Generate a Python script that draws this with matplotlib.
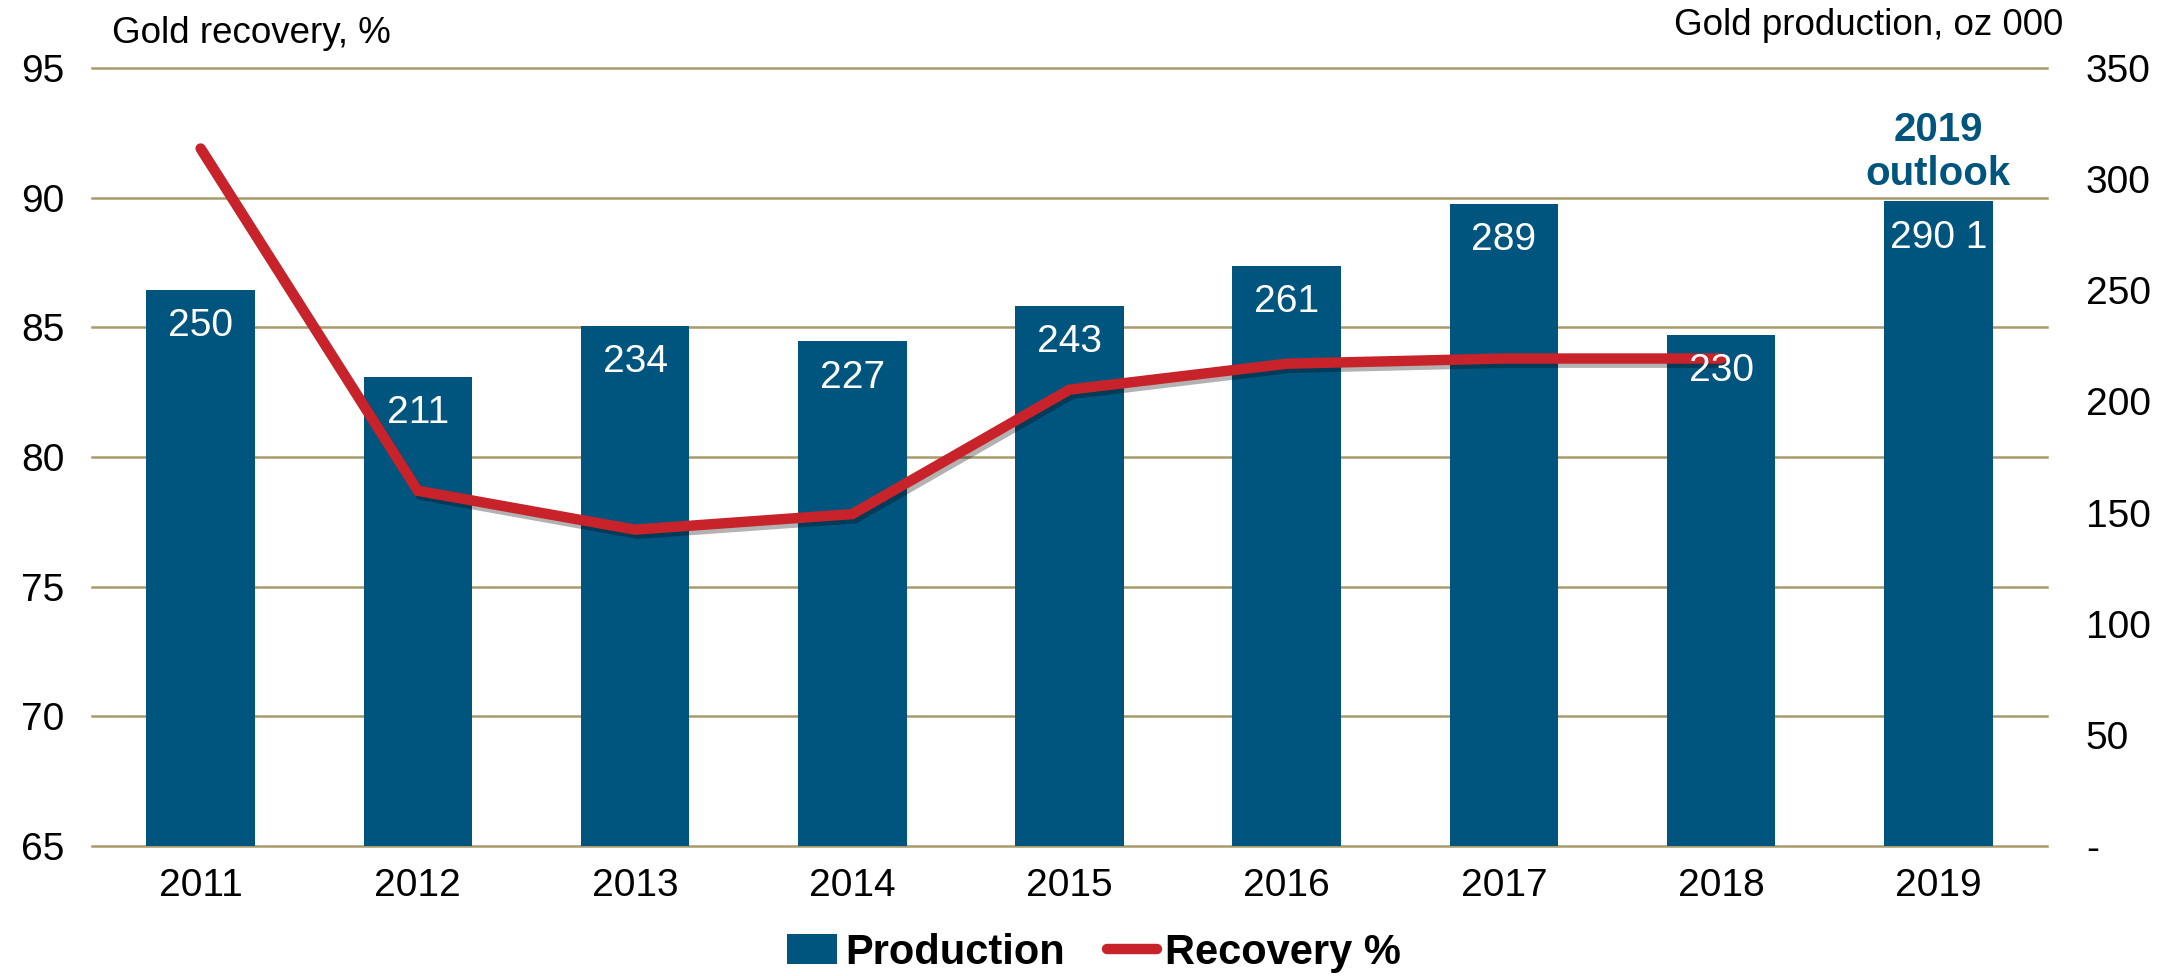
import matplotlib
matplotlib.use("Agg")
import matplotlib.pyplot as plt
import matplotlib.patheffects as pe
import matplotlib.transforms as mtransforms
from matplotlib.patches import Patch
from matplotlib.lines import Line2D
import numpy as np

plt.rcParams['font.family'] = ['Liberation Sans', 'DejaVu Sans']

years = ["2011", "2012", "2013", "2014", "2015", "2016", "2017", "2018", "2019"]
production = [250, 211, 234, 227, 243, 261, 289, 230, 290]
prod_labels = ["250", "211", "234", "227", "243", "261", "289", "230", "290 1"]
recovery = [91.9, 78.7, 77.2, 77.8, 82.6, 83.6, 83.8, 83.8]   # no 2019 value

left_ticks = [65, 70, 75, 80, 85, 90, 95]
right_ticks = [0, 50, 100, 150, 200, 250, 300, 350]
right_tick_labels = ["-", "50", "100", "150", "200", "250", "300", "350"]

blue = "#00557f"
red = "#c8232b"
grid_col = "#a99a6b"
fs = 28

fig = plt.figure(figsize=(21.75, 9.76), dpi=100)
ax = fig.add_axes([0.0423, 0.1332, 0.8988, 0.797])

x = np.arange(len(years))
ax.bar(x, production, width=0.5, color=blue, zorder=2)
ax.set_xlim(-0.5, len(years) - 0.5)
ax.set_ylim(0, 350)
ax.set_xticks(x)
ax.set_xticklabels(years)
for s in ax.spines.values():
    s.set_visible(False)

# recovery line on a twin axis (left scale)
ax2 = ax.twinx()
ax2.set_ylim(65, 95)
ax2.set_yticks(left_ticks)
ax2.yaxis.tick_left()
ax2.tick_params(axis='y', length=0, pad=20, labelsize=fs)
for s in ax2.spines.values():
    s.set_visible(False)

# gridlines follow the left (recovery) scale but sit behind the bars
trans = mtransforms.blended_transform_factory(ax.transAxes, ax2.transData)
for t in left_ticks:
    ax.plot([0, 1], [t, t], transform=trans, color=grid_col, linewidth=1.8,
            zorder=1, clip_on=False)

# production scale goes to the right (twinx resets it)
ax.yaxis.tick_right()
ax.set_yticks(right_ticks)
ax.set_yticklabels(right_tick_labels)
ax.tick_params(axis='x', length=0, pad=16, labelsize=fs)
ax.tick_params(axis='y', length=0, pad=28, labelsize=fs)
for lab in ax.get_yticklabels():
    lab.set_horizontalalignment('left')

ax2.plot(x[:len(recovery)], recovery, color=red, linewidth=7.5,
         solid_capstyle='round', solid_joinstyle='miter',
         path_effects=[pe.SimpleLineShadow(offset=(2, -3), shadow_color='black', alpha=0.3),
                       pe.Normal()])

# bar labels drawn on top axis so they sit over the line
for i, v in enumerate(production):
    ax2.annotate(prod_labels[i], xy=(x[i], v), xycoords=ax.transData,
                 xytext=(0, -26), textcoords='offset points',
                 ha='center', va='center', color='white', fontsize=fs)

ax2.annotate("2019\noutlook", xy=(x[-1], production[-1]), xycoords=ax.transData,
             xytext=(0, 6), textcoords='offset points', ha='center', va='bottom',
             color=blue, fontsize=29, fontweight='bold', linespacing=1.22)

fig.text(0.0515, 0.966, "Gold recovery, %", fontsize=26.5, ha='left', va='center')
fig.text(0.9485, 0.974, "Gold production, oz 000", fontsize=26.5, ha='right', va='center')

handles = [Patch(facecolor=blue, edgecolor='none', label="Production"),
           Line2D([0], [0], color=red, linewidth=7.5, solid_capstyle='round', label="Recovery %")]
fig.legend(handles=handles, loc='center', bbox_to_anchor=(0.503, 0.024), ncol=2,
           frameon=False, prop={'weight': 'bold', 'size': 30},
           handlelength=1.2, handletextpad=0.2, columnspacing=1.0)

fig.savefig("out.png", dpi=100)
